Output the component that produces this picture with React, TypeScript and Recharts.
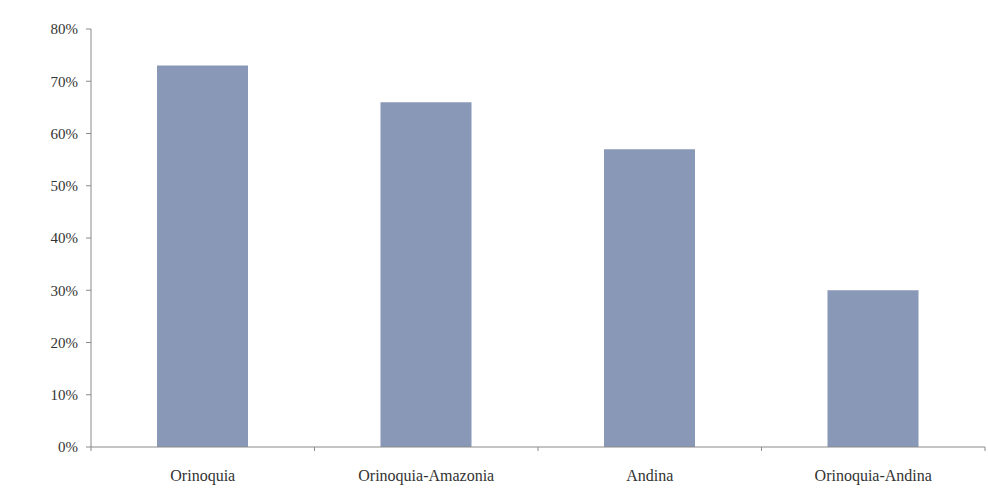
import { BarChart, Bar, XAxis, YAxis } from 'recharts'

const regions = ['Orinoquia', 'Orinoquia-Amazonia', 'Andina', 'Orinoquia-Andina']
const shares = [73, 66, 57, 30]
const yTicks = [0, 10, 20, 30, 40, 50, 60, 70, 80]

const data = regions.map((r, i) => ({ region: r, share: shares[i] }))

const WIDTH = 988
const HEIGHT = 490
const MARGIN = { top: 29, right: 3, bottom: 13, left: 31 }
const Y_WIDTH = 60
const BAND = (WIDTH - MARGIN.left - MARGIN.right - Y_WIDTH) / regions.length

const AXIS = '#8a8a8a'
const TEXT = '#333333'
const BAR = '#8898b6'
const FONT = '"Liberation Serif", "DejaVu Serif", serif'

// x ticks sit on category boundaries, labels stay centred
function XTick(props: any) {
  const { x, y, payload, index } = props
  const half = BAND / 2
  const axisY = y - 23
  return (
    <g>
      {index === 0 && <line x1={x - half} x2={x - half} y1={axisY} y2={axisY + 4} stroke={AXIS} />}
      <line x1={x + half} x2={x + half} y1={axisY} y2={axisY + 4} stroke={AXIS} />
      <text x={x} y={y} dy="0.71em" textAnchor="middle" fill={TEXT} fontSize={16} fontFamily={FONT}>
        {payload.value}
      </text>
    </g>
  )
}

export default function App() {
  return (
    <div style={{ position: 'absolute', left: 0, top: 0, width: WIDTH, height: HEIGHT, background: '#fff' }}>
      <BarChart width={WIDTH} height={HEIGHT} data={data} margin={MARGIN} barCategoryGap={0}>
        <XAxis
          dataKey="region"
          stroke={AXIS}
          tickLine={false}
          tick={<XTick />}
          tickMargin={17}
          height={30}
          interval={0}
        />
        <YAxis
          width={Y_WIDTH}
          domain={[0, 80]}
          ticks={yTicks}
          tickFormatter={v => `${v}%`}
          stroke={AXIS}
          tickSize={5}
          tickMargin={8}
          tick={{ fill: TEXT, fontSize: 15, fontFamily: FONT }}
        />
        <Bar dataKey="share" fill={BAR} barSize={91} isAnimationActive={false} />
      </BarChart>
    </div>
  )
}
